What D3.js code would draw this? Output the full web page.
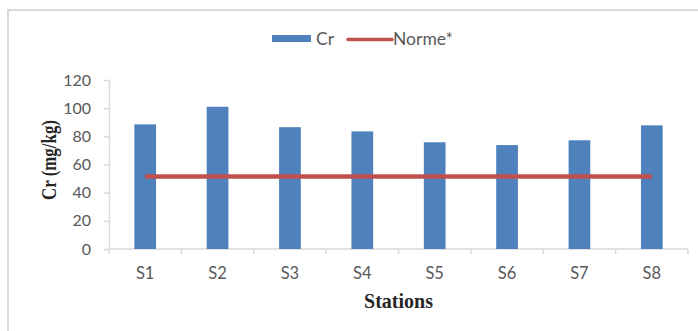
<!DOCTYPE html>
<html>
<head>
<meta charset="utf-8">
<script src="https://cdn.jsdelivr.net/npm/d3@7"></script>
<style>
html,body{margin:0;padding:0;background:#fff;}
svg{display:block;}
</style>
</head>
<body>
<script>
const stations = ["S1","S2","S3","S4","S5","S6","S7","S8"];
const crValues = [88.5, 101, 86.5, 83.5, 75.8, 73.8, 77.2, 87.8];
const normeValues = [51.5, 51.5, 51.5, 51.5, 51.5, 51.5, 51.5, 51.5];
const yTicks = [0, 20, 40, 60, 80, 100, 120];
const legendLabels = ["Cr", "Norme*"];
const xTitle = "Stations";
const yTitle = "Cr (mg/kg)";

const W = 698, H = 331;
const svg = d3.select("body").append("svg").attr("width", W).attr("height", H);
svg.append("rect").attr("width", W).attr("height", H).attr("fill", "#fff");

// chart frame
svg.append("path").attr("d", `M8,${H} L8,10 L${W},10`).attr("fill","none")
  .attr("stroke","#d9d9d9").attr("stroke-width",2);

const x = d3.scaleBand().domain(stations).range([109, 688]).paddingInner(0.7).paddingOuter(0.35);
const y = d3.scaleLinear().domain([0, 120]).range([249, 80]);

const gray = "#595959", axisCol = "#d9d9d9";
const font = "Lato, 'Open Sans', sans-serif";

// y axis
const ya = svg.append("g").attr("transform", "translate(109,0)")
  .call(d3.axisLeft(y).tickValues(yTicks).tickSize(5).tickPadding(13).tickSizeOuter(0));
ya.select(".domain").attr("stroke", axisCol).attr("stroke-width", 1.5);
ya.selectAll(".tick line").attr("stroke", axisCol).attr("stroke-width", 1.5);
ya.selectAll(".tick text").attr("fill", gray).style("font-family", font).style("font-size", "16px");

// x axis line
svg.append("line").attr("x1", x.range()[0]).attr("x2", x.range()[1])
  .attr("y1", y(0)).attr("y2", y(0)).attr("stroke", axisCol).attr("stroke-width", 1.5);
// boundary ticks
const bounds = d3.range(stations.length + 1).map(i => x.range()[0] + i * x.step());
svg.selectAll(".xb").data(bounds).enter().append("line")
  .attr("x1", d => d).attr("x2", d => d).attr("y1", y(0)).attr("y2", y(0) + 5)
  .attr("stroke", axisCol).attr("stroke-width", 1.5);
// x labels
svg.selectAll(".xl").data(stations).enter().append("text")
  .attr("x", d => x(d) + x.bandwidth() / 2).attr("y", 279)
  .attr("text-anchor", "middle").attr("fill", gray)
  .style("font-family", font).style("font-size", "16.5px").text(d => d);

// bars
svg.selectAll(".bar").data(stations).enter().append("rect")
  .attr("x", d => x(d)).attr("width", x.bandwidth())
  .attr("y", (d, i) => y(crValues[i])).attr("height", (d, i) => y(0) - y(crValues[i]))
  .attr("fill", "#4f81bd");

// norme line
const line = d3.line().x((d, i) => x(stations[i]) + x.bandwidth() / 2).y(d => y(d));
svg.append("path").datum(normeValues).attr("d", line)
  .attr("fill", "none").attr("stroke", "#c0504d").attr("stroke-width", 4.5);

// titles
svg.append("text").attr("x", (x.range()[0] + x.range()[1]) / 2).attr("y", 308)
  .attr("text-anchor", "middle").attr("fill", "#262626")
  .style("font-family", "'Liberation Serif','Times New Roman',serif")
  .style("font-weight", "bold").style("font-size", "20px").text(xTitle);
svg.append("text").attr("transform", "translate(56,160) rotate(-90)")
  .attr("text-anchor", "middle").attr("fill", "#262626")
  .attr("textLength", 80).attr("lengthAdjust", "spacingAndGlyphs")
  .style("font-family", "'Liberation Serif','Times New Roman',serif")
  .style("font-weight", "bold").style("font-size", "21px").text(yTitle);

// legend
svg.append("rect").attr("x", 272).attr("y", 35).attr("width", 39).attr("height", 7).attr("fill", "#4f81bd");
svg.append("text").attr("x", 316).attr("y", 45).attr("fill", gray)
  .style("font-family", font).style("font-size", "17.5px").text(legendLabels[0]);
svg.append("line").attr("x1", 348).attr("x2", 392).attr("y1", 39.5).attr("y2", 39.5)
  .attr("stroke", "#c0504d").attr("stroke-width", 3.5).attr("stroke-linecap", "round");
svg.append("text").attr("x", 393).attr("y", 45).attr("fill", gray)
  .style("font-family", font).style("font-size", "17.5px").text(legendLabels[1]);
</script>
</body>
</html>
